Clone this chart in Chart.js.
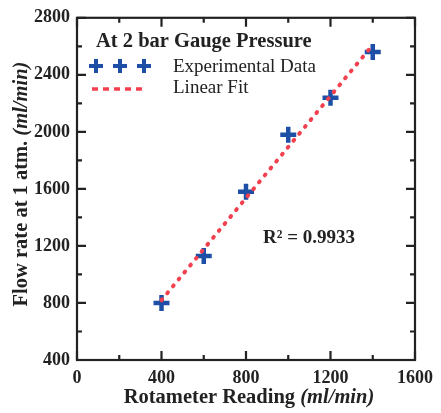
<!DOCTYPE html>
<html>
<head>
<meta charset="utf-8">
<script src="https://cdn.jsdelivr.net/npm/chart.js@4.4.1/dist/chart.umd.min.js"></script>
<style>
  html, body { margin: 0; padding: 0; background: #fff; }
  #wrap { width: 441px; height: 413px; }
</style>
</head>
<body>
<div id="wrap"><canvas id="flowChart"></canvas></div>
<script>
// readings
const rotameterReading = [400, 600, 800, 1000, 1200, 1400];
const flowRate = [800, 1130, 1580, 1980, 2240, 2560];
const fitX = [400, 1400];
const fitY = [820, 2610];
const r2Text = 'R² = 0.9933';

const SERIF = '"Liberation Serif", "DejaVu Serif", serif';
const BLUE = '#1d4fa6';
const RED = '#f2404f';
const INK = '#222222';

// frame + inward ticks on all four sides
const frameTicksPlugin = {
  id: 'frameTicks',
  afterDraw: (chart) => {
    const ctx = chart.ctx;
    const a = chart.chartArea;
    const xs = chart.scales.x;
    const ys = chart.scales.y;
    ctx.save();
    ctx.strokeStyle = INK;
    ctx.lineWidth = 2.2;
    ctx.strokeRect(a.left, a.top, a.right - a.left, a.bottom - a.top);

    xs.ticks.forEach(t => {
      const px = xs.getPixelForValue(t.value);
      const len = t.value % 400 === 0 ? 9 : 5;
      ctx.beginPath();
      ctx.moveTo(px, a.bottom); ctx.lineTo(px, a.bottom - len);
      ctx.moveTo(px, a.top); ctx.lineTo(px, a.top + len);
      ctx.stroke();
    });
    ys.ticks.forEach(t => {
      const py = ys.getPixelForValue(t.value);
      const len = t.value % 400 === 0 ? 9 : 5;
      ctx.beginPath();
      ctx.moveTo(a.left, py); ctx.lineTo(a.left + len, py);
      ctx.moveTo(a.right, py); ctx.lineTo(a.right - len, py);
      ctx.stroke();
    });
    ctx.restore();
  }
};

// axis titles with italic units, legend box and R² note
const labelsPlugin = {
  id: 'labels',
  afterDraw: (chart) => {
    const ctx = chart.ctx;
    const a = chart.chartArea;
    ctx.save();
    ctx.fillStyle = INK;
    ctx.textBaseline = 'middle';

    function mixed(x, y, plain, ital, size) {
      ctx.font = 'bold ' + size + 'px ' + SERIF;
      const w1 = ctx.measureText(plain).width;
      ctx.font = 'italic bold ' + size + 'px ' + SERIF;
      const w2 = ctx.measureText(ital).width;
      let sx = x - (w1 + w2) / 2;
      ctx.textAlign = 'left';
      ctx.font = 'bold ' + size + 'px ' + SERIF;
      ctx.fillText(plain, sx, y);
      ctx.font = 'italic bold ' + size + 'px ' + SERIF;
      ctx.fillText(ital, sx + w1, y);
    }

    mixed(249, 398, 'Rotameter Reading ', '(ml/min)', 20.5);

    ctx.save();
    ctx.translate(22, 184);
    ctx.rotate(-Math.PI / 2);
    mixed(0, 0, 'Flow rate at 1 atm. ', '(ml/min)', 20.5);
    ctx.restore();

    // legend
    ctx.textAlign = 'left';
    ctx.font = 'bold 20.5px ' + SERIF;
    ctx.fillText('At 2 bar Gauge Pressure', 96, 42);

    const pts = chart.data.datasets[1];
    ctx.strokeStyle = pts.borderColor;
    ctx.lineWidth = 4;
    [96, 120, 144].forEach(cx => {
      ctx.beginPath();
      ctx.moveTo(cx - 7, 66); ctx.lineTo(cx + 7, 66);
      ctx.moveTo(cx, 59); ctx.lineTo(cx, 73);
      ctx.stroke();
    });
    const fit = chart.data.datasets[0];
    ctx.strokeStyle = fit.borderColor;
    ctx.lineWidth = 3.5;
    ctx.setLineDash([6, 5]);
    ctx.beginPath();
    ctx.moveTo(92, 89); ctx.lineTo(145, 89);
    ctx.stroke();
    ctx.setLineDash([]);

    ctx.font = '19px ' + SERIF;
    ctx.fillText('Experimental Data', 173, 67);
    ctx.fillText('Linear Fit', 173, 88);

    ctx.font = 'bold 19px ' + SERIF;
    ctx.fillText(r2Text, 263, 238);
    ctx.restore();
  }
};

function tickFont() {
  return { family: SERIF, size: 18, weight: 'bold' };
}

window.addEventListener('DOMContentLoaded', () => {
  const ctx = document.getElementById('flowChart').getContext('2d');
  new Chart(ctx, {
    type: 'scatter',
    data: {
      datasets: [
        {
          type: 'line',
          label: 'Linear Fit',
          data: fitX.map((x, i) => ({ x: x, y: fitY[i] })),
          borderColor: RED,
          borderWidth: 4,
          borderDash: [1, 8],
          borderCapStyle: 'round',
          pointRadius: 0,
          fill: false,
          order: 0
        },
        {
          label: 'Experimental Data',
          data: rotameterReading.map((x, i) => ({ x: x, y: flowRate[i] })),
          pointStyle: 'cross',
          pointRadius: 8,
          borderWidth: 4.5,
          borderColor: BLUE,
          backgroundColor: BLUE,
          order: 1
        }
      ]
    },
    options: {
      responsive: true,
      maintainAspectRatio: false,
      animation: false,
      layout: { padding: { left: 0, right: 18, top: 15, bottom: 0 } },
      plugins: { legend: { display: false }, tooltip: { enabled: false } },
      scales: {
        x: {
          type: 'linear',
          min: 0,
          max: 1600,
          grid: { display: false, drawTicks: false },
          border: { display: false },
          afterFit: (s) => { s.height = 53; },
          ticks: {
            stepSize: 200,
            autoSkip: false,
            maxRotation: 0,
            padding: 8,
            color: INK,
            font: tickFont(),
            callback: (v) => (v % 400 === 0 ? v : '')
          }
        },
        y: {
          type: 'linear',
          min: 400,
          max: 2800,
          grid: { display: false, drawTicks: false },
          border: { display: false },
          afterFit: (s) => { s.width = 77; },
          ticks: {
            stepSize: 200,
            autoSkip: false,
            padding: 7,
            color: INK,
            font: tickFont(),
            callback: (v) => (v % 400 === 0 ? v : '')
          }
        }
      }
    },
    plugins: [frameTicksPlugin, labelsPlugin]
  });
});
</script>
</body>
</html>
